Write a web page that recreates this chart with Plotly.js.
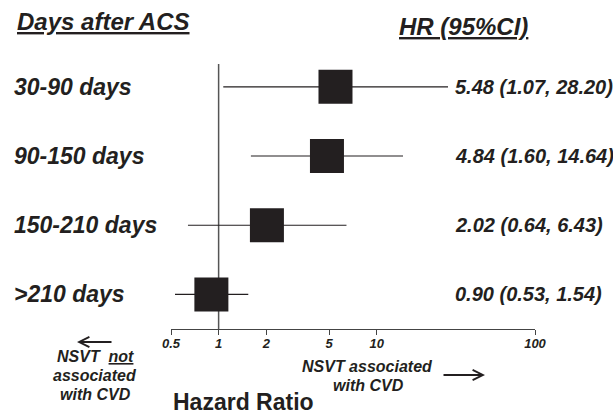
<!DOCTYPE html>
<html>
<head>
<meta charset="utf-8">
<script src="https://cdn.plot.ly/plotly-3.0.1.min.js"></script>
<style>html,body{margin:0;padding:0;background:#fff;}#chart{width:613px;height:416px;}</style>
</head>
<body>
<div id="chart"></div>
<script>
// ---- data ----
const periods = ["30-90 days", "90-150 days", "150-210 days", ">210 days"];
const hr = [5.48, 4.84, 2.02, 0.90];
const ciLow = [1.07, 1.60, 0.64, 0.53];
const ciHigh = [28.20, 14.64, 6.43, 1.54];
const rowPos = [4, 3, 2, 1];
const tickVals = [0.5, 1, 2, 5, 10, 100];
const tickText = ["0.5", "1", "2", "5", "10", "100"];

// ---- layout helpers ----
const W = 613, H = 416;
const M = {l: 171, r: 78, t: 64, b: 87};
const pw = W - M.l - M.r, ph = H - M.t - M.b;
const PX = x => (x - M.l) / pw;
const PY = y => (H - M.b - y) / ph;
const INK = "#231f20";
const FAM = "Liberation Sans, Arial, sans-serif";
const bi = (size) => ({family: FAM, size: size, color: INK, weight: "bold", style: "italic"});

const trace = {
  type: "scatter",
  mode: "markers",
  x: hr,
  y: rowPos,
  marker: {symbol: "square", size: 34, color: INK, line: {width: 0}},
  error_x: {
    type: "data", symmetric: false,
    array: hr.map((v, i) => ciHigh[i] - v),
    arrayminus: hr.map((v, i) => v - ciLow[i]),
    width: 0, thickness: 1.1, color: INK
  },
  hoverinfo: "none",
  showlegend: false
};

const ann = [];
// headers
ann.push({xref: "paper", yref: "paper", x: PX(15), y: PY(21), xanchor: "left", yanchor: "middle",
  text: "<u>Days after ACS</u>", showarrow: false, font: bi(24)});
ann.push({xref: "paper", yref: "paper", x: PX(397), y: PY(26), xanchor: "left", yanchor: "middle",
  text: "<u>HR (95%CI)</u>", showarrow: false, font: bi(24)});
// row labels and HR text
periods.forEach((p, i) => {
  ann.push({xref: "paper", yref: "y", x: PX(12), y: rowPos[i], xanchor: "left", yanchor: "middle",
    text: p, showarrow: false, font: bi(23)});
  ann.push({xref: "paper", yref: "y", x: PX(453), y: rowPos[i], xanchor: "left", yanchor: "middle",
    text: hr[i].toFixed(2) + " (" + ciLow[i].toFixed(2) + ", " + ciHigh[i].toFixed(2) + ")",
    showarrow: false, font: bi(20)});
});
// left direction text
ann.push({xref: "paper", yref: "paper", x: PX(95), y: PY(356), xanchor: "center", yanchor: "middle",
  text: "NSVT  <u>not</u>", showarrow: false, font: bi(16)});
ann.push({xref: "paper", yref: "paper", x: PX(95), y: PY(375), xanchor: "center", yanchor: "middle",
  text: "associated", showarrow: false, font: bi(16)});
ann.push({xref: "paper", yref: "paper", x: PX(95), y: PY(394), xanchor: "center", yanchor: "middle",
  text: "with CVD", showarrow: false, font: bi(16)});
// right direction text
ann.push({xref: "paper", yref: "paper", x: PX(367), y: PY(366.5), xanchor: "center", yanchor: "middle",
  text: "NSVT associated", showarrow: false, font: bi(16)});
ann.push({xref: "paper", yref: "paper", x: PX(368), y: PY(385), xanchor: "center", yanchor: "middle",
  text: "with CVD", showarrow: false, font: bi(16)});
// arrows
ann.push({xref: "paper", yref: "paper", x: PX(77), y: PY(342), axref: "pixel", ayref: "pixel",
  ax: 36, ay: 0, text: "", showarrow: true, arrowhead: 5, arrowsize: 1, arrowwidth: 2, arrowcolor: INK});
ann.push({xref: "paper", yref: "paper", x: PX(485), y: PY(375), axref: "pixel", ayref: "pixel",
  ax: -43, ay: 0, text: "", showarrow: true, arrowhead: 5, arrowsize: 1, arrowwidth: 2, arrowcolor: INK});
// axis title
ann.push({xref: "paper", yref: "paper", x: PX(171), y: PY(402), xanchor: "left", yanchor: "middle",
  text: "Hazard Ratio", showarrow: false, font: {family: FAM, size: 23, color: INK, weight: "bold"}});

const layout = {
  width: W, height: H,
  margin: M,
  paper_bgcolor: "#fff", plot_bgcolor: "#fff",
  showlegend: false,
  xaxis: {
    type: "log",
    range: [Math.log10(0.5), 2],
    tickmode: "array", tickvals: tickVals, ticktext: tickText,
    ticks: "outside", ticklen: 5, tickwidth: 1, tickcolor: "#444",
    ticklabelstandoff: -3,
    showline: true, linecolor: "#444", linewidth: 1,
    showgrid: false, zeroline: false,
    tickfont: bi(13),
    fixedrange: true
  },
  yaxis: {
    range: [0.5, 4.33],
    visible: false, showgrid: false, zeroline: false,
    fixedrange: true
  },
  shapes: [{type: "line", layer: "below", xref: "x", yref: "paper", x0: 1, x1: 1, y0: 0, y1: 1,
    line: {color: "#555", width: 1.5}}],
  annotations: ann
};

Plotly.newPlot("chart", [trace], layout, {staticPlot: true, displayModeBar: false});
</script>
</body>
</html>
